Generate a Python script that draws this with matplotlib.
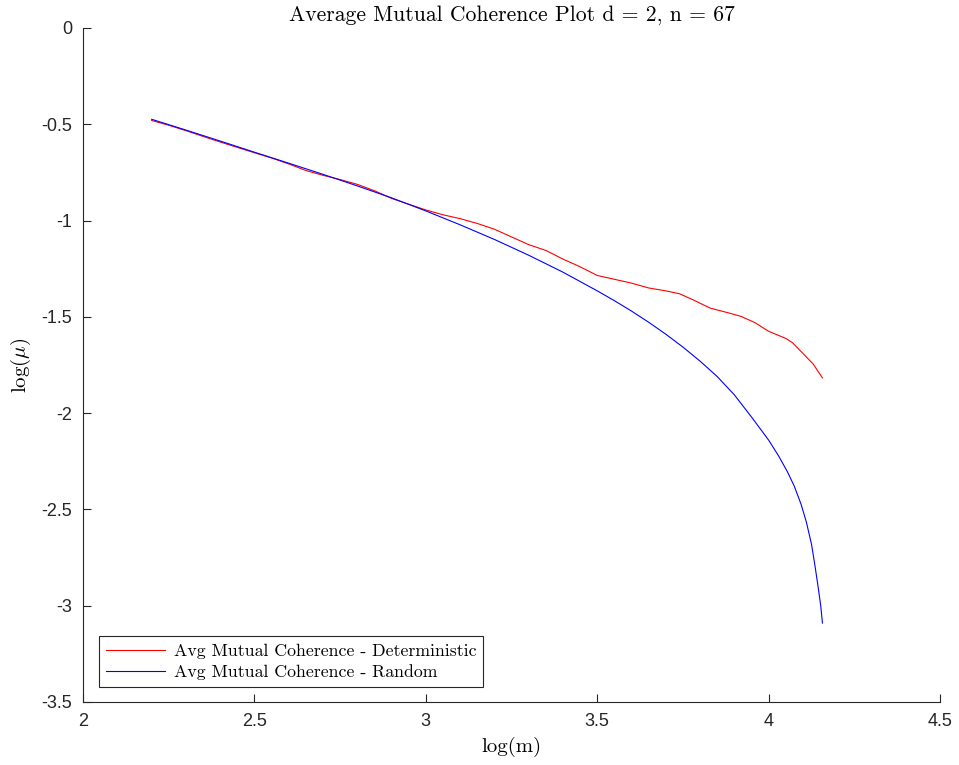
import numpy as np
import matplotlib
matplotlib.use("Agg")
import matplotlib.pyplot as plt

plt.rcParams['mathtext.fontset'] = 'cm'
plt.rcParams['font.family'] = ['Liberation Sans', 'DejaVu Sans']
plt.rcParams['axes.unicode_minus'] = False

# log(m) / log(mu)
x_rand = [2.20, 2.30, 2.40, 2.50, 2.60, 2.70, 2.80, 2.90, 3.00, 3.10, 3.20, 3.30,
          3.40, 3.50, 3.55, 3.60, 3.65, 3.70, 3.75, 3.80, 3.85, 3.90, 3.95, 4.00,
          4.03, 4.055, 4.075, 4.095, 4.11, 4.125, 4.135, 4.145, 4.152, 4.157]
y_rand = [-0.474, -0.530, -0.587, -0.645, -0.702, -0.760, -0.820, -0.882, -0.950,
          -1.022, -1.098, -1.180, -1.268, -1.365, -1.416, -1.470, -1.528, -1.590,
          -1.657, -1.730, -1.810, -1.905, -2.020, -2.140, -2.225, -2.305, -2.380,
          -2.475, -2.565, -2.680, -2.790, -2.910, -3.000, -3.090]

x_det = [2.20, 2.25, 2.30, 2.35, 2.40, 2.45, 2.50, 2.55, 2.60, 2.65, 2.70, 2.75,
         2.80, 2.85, 2.90, 2.95, 3.00, 3.05, 3.10, 3.15, 3.20, 3.25, 3.30, 3.35,
         3.40, 3.45, 3.50, 3.55, 3.60, 3.65, 3.70, 3.74, 3.78, 3.83, 3.88, 3.92,
         3.96, 4.00, 4.05, 4.07, 4.10, 4.13, 4.157]
y_det = [-0.480, -0.505, -0.533, -0.563, -0.592, -0.620, -0.648, -0.675, -0.706,
         -0.740, -0.765, -0.787, -0.812, -0.845, -0.885, -0.915, -0.945, -0.970,
         -0.990, -1.015, -1.045, -1.085, -1.125, -1.155, -1.200, -1.240, -1.285,
         -1.305, -1.325, -1.350, -1.365, -1.380, -1.412, -1.455, -1.478, -1.498,
         -1.530, -1.575, -1.612, -1.635, -1.690, -1.745, -1.817]

xticks = [2, 2.5, 3, 3.5, 4, 4.5]
yticks = [0, -0.5, -1, -1.5, -2, -2.5, -3, -3.5]

serif = 'cmr10'

fig = plt.figure(figsize=(9.59, 7.65), dpi=100)
ax = fig.add_axes([0.0866, 0.0824, 0.8936, 0.881])

ax.plot(x_det, y_det, color=(1, 0, 0), lw=0.8, label='Avg Mutual Coherence - Deterministic')
ax.plot(x_rand, y_rand, color=(0, 0, 1), lw=0.8, label='Avg Mutual Coherence - Random')

ax.set_xlim(2, 4.5)
ax.set_ylim(-3.5, 0)
ax.set_xticks(xticks)
ax.set_xticklabels([f'{t:g}' for t in xticks])
ax.set_yticks(yticks)
ax.set_yticklabels([f'{t:g}' for t in yticks])

ax.spines['top'].set_visible(False)
ax.spines['right'].set_visible(False)
for s in ['left', 'bottom']:
    ax.spines[s].set_color('#262626')
    ax.spines[s].set_linewidth(0.8)
ax.tick_params(direction='in', length=6, width=0.8, colors='#262626', labelsize=13, pad=8)

ax.set_title('Average Mutual Coherence Plot d = 2, n = 67', fontsize=15.6, family=serif, pad=5)
ax.set_xlabel('log(m)', fontsize=15, family=serif, labelpad=5)
ax.set_ylabel(r'log($\mu$)', fontsize=15, family=serif, labelpad=6)

leg = ax.legend(loc='lower left', bbox_to_anchor=(0.0187, 0.022), borderaxespad=0,
                prop={'family': serif, 'size': 12.8}, fancybox=False, framealpha=1,
                edgecolor='#262626', handlelength=3.3, handletextpad=0.5,
                borderpad=0.4, labelspacing=0.3)
leg.get_frame().set_linewidth(0.8)

fig.savefig('out.png', dpi=100)
